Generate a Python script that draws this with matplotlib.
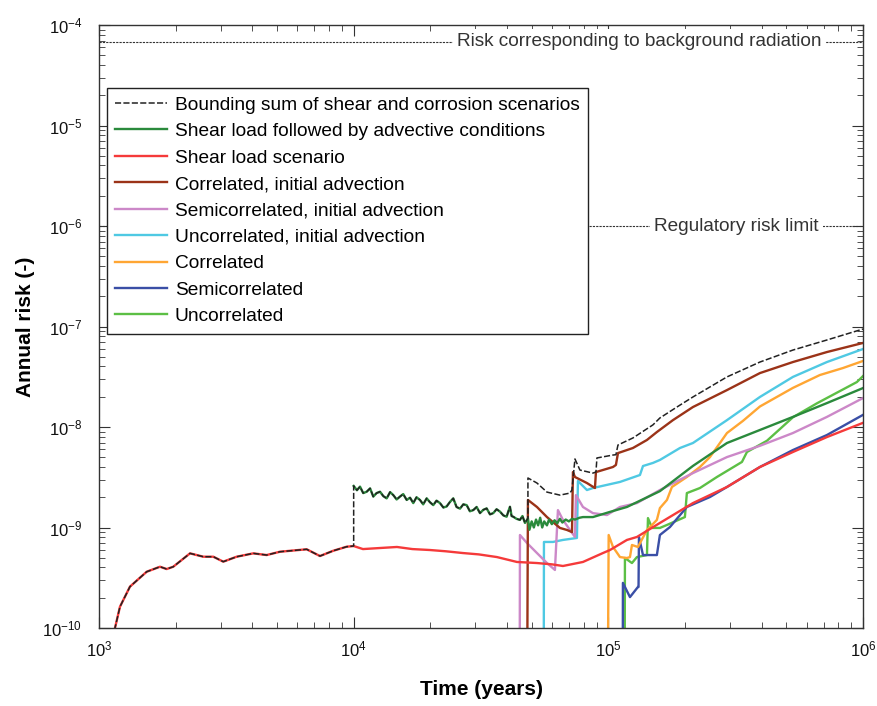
import numpy as np
import matplotlib
matplotlib.use("Agg")
import matplotlib.pyplot as plt

plt.rcParams['font.family'] = ['Liberation Sans', 'DejaVu Sans']
plt.rcParams['mathtext.fontset'] = 'custom'
plt.rcParams['mathtext.rm'] = 'Liberation Sans'

# common early part (shear load, before 10 000 years)
early_t = [1150, 1209, 1323, 1539, 1736, 1844, 1957, 2277, 2568, 2811,
           3076, 3472, 4035, 4554, 5136, 6539, 7374, 8317, 9387, 10000]
early_r = [9.5e-11, 1.63e-10, 2.58e-10, 3.63e-10, 4.07e-10, 3.86e-10, 4.07e-10, 5.53e-10, 5.12e-10, 5.12e-10,
           4.57e-10, 5.12e-10, 5.53e-10, 5.32e-10, 5.74e-10, 6.07e-10, 5.20e-10, 5.87e-10, 6.44e-10, 6.54e-10]

# noisy part shared by bounding sum and shear+advective
noisy_t = [10000, 10300, 10590, 10900, 11250, 11600, 11940, 12300,
           12690, 13080, 13480, 13900, 14310, 14750, 15200, 15650,
           16150, 16650, 17140, 17650, 18210, 18750, 19350, 19950,
           20540, 21150, 21820, 22500, 23180, 23900, 24610, 25350,
           26150, 26950, 27780, 28600, 29490, 30400, 31330, 32300,
           33280, 34300, 35330, 36400, 37530, 38700, 39870, 40500,
           41090, 41700, 42330, 43600, 44970, 46000, 47070, 48340]
noisy_r = [2.59e-9, 2.35e-9, 2.55e-9, 2.20e-9, 2.27e-9, 2.45e-9, 2.03e-9, 2.20e-9,
           2.27e-9, 2.05e-9, 1.95e-9, 2.25e-9, 2.10e-9, 1.90e-9, 2.03e-9, 2.15e-9,
           1.88e-9, 1.98e-9, 1.75e-9, 2.00e-9, 1.88e-9, 1.70e-9, 1.95e-9, 1.78e-9,
           1.67e-9, 1.85e-9, 1.75e-9, 1.58e-9, 1.62e-9, 1.80e-9, 1.95e-9, 1.60e-9,
           1.54e-9, 1.70e-9, 1.67e-9, 1.45e-9, 1.49e-9, 1.60e-9, 1.39e-9, 1.50e-9,
           1.55e-9, 1.35e-9, 1.39e-9, 1.52e-9, 1.44e-9, 1.32e-9, 1.28e-9, 1.45e-9,
           1.61e-9, 1.30e-9, 1.28e-9, 1.22e-9, 1.19e-9, 1.30e-9, 1.11e-9, 1.23e-9]

bound_tail_t = [48340, 52450, 57420, 64560, 70680, 71940, 73950, 77350, 87000, 89400, 90210, 104300,
                107100, 109100, 124900, 149700, 159400, 185900, 214900, 292300, 393800, 530700, 721600, 1000000]
bound_tail_r = [3.11e-9, 2.77e-9, 2.25e-9, 2.10e-9, 2.20e-9, 2.36e-9, 4.81e-9, 3.73e-9, 3.48e-9, 3.56e-9, 4.92e-9, 5.26e-9,
                5.30e-9, 6.62e-9, 7.78e-9, 1.05e-8, 1.23e-8, 1.58e-8, 1.99e-8, 3.15e-8, 4.43e-8, 5.83e-8, 7.34e-8, 9.44e-8]

green_tail_t = [49000, 50000, 51000, 52000, 53000, 54000, 55000, 56000,
                57400, 58500, 60000, 61500, 63000, 64500, 66000, 68000,
                70000, 72000, 74000, 77000, 79490, 87000, 101500, 118300,
                159400, 214900, 292300, 393800, 530700, 721600, 1000000]
green_tail_r = [0.95e-9, 1.15e-9, 1.00e-9, 1.20e-9, 1.05e-9, 1.25e-9, 1.00e-9, 1.15e-9,
                1.05e-9, 1.20e-9, 1.08e-9, 1.18e-9, 1.10e-9, 1.22e-9, 1.12e-9, 1.20e-9,
                1.15e-9, 1.22e-9, 1.20e-9, 1.25e-9, 1.27e-9, 1.27e-9, 1.43e-9, 1.60e-9,
                2.30e-9, 4.10e-9, 6.93e-9, 9.34e-9, 1.26e-8, 1.73e-8, 2.44e-8]

red_tail_t = [10876, 12684, 14791, 17000, 19930, 23000, 26860, 31000, 36520, 43770, 52450, 60000, 66340,
              79500, 95240, 101500, 118300, 129500, 159400, 214900, 292300, 393800, 530700, 721600, 1000000]
red_tail_r = [6.1e-10, 6.25e-10, 6.4e-10, 6.1e-10, 5.97e-10, 5.8e-10, 5.57e-10, 5.4e-10, 5.08e-10, 4.54e-10, 4.43e-10, 4.3e-10, 4.14e-10,
              4.54e-10, 5.57e-10, 5.97e-10, 7.52e-10, 8.05e-10, 1.11e-9, 1.75e-9, 2.53e-9, 4.0e-9, 5.64e-9, 7.94e-9, 1.10e-8]

brown_t = [48100, 48340, 52450, 57420, 64560, 68780, 72000, 72620, 73950, 82410, 88600, 89400, 104300,
           107100, 109100, 124900, 141800, 155100, 179300, 214900, 292300, 393800, 530700, 721600, 1000000]
brown_r = [9e-11, 1.88e-9, 1.60e-9, 1.27e-9, 9.9e-10, 9.45e-10, 9.0e-10, 3.56e-9, 3.18e-9, 2.77e-9, 2.47e-9, 3.56e-9, 4.0e-9,
           4.19e-9, 5.5e-9, 6.18e-9, 7.43e-9, 8.91e-9, 1.17e-8, 1.58e-8, 2.33e-8, 3.44e-8, 4.43e-8, 5.57e-8, 6.86e-8]

pink_t = [44900, 44970, 47900, 52450, 57420, 61700, 63400, 66340, 70680, 73950, 74620, 79490,
          87000, 98740, 111100, 129500, 159400, 214900, 292300, 393800, 530700, 721600, 1000000]
pink_r = [9e-11, 8.42e-10, 7.02e-10, 5.57e-10, 4.43e-10, 3.78e-10, 1.49e-9, 1.19e-9, 9.45e-10, 8.05e-10, 2.10e-9, 1.60e-9,
          1.39e-9, 1.33e-9, 1.60e-9, 1.75e-9, 2.36e-9, 3.48e-9, 5.02e-9, 6.5e-9, 8.71e-9, 1.26e-8, 1.94e-8]

cyan_t = [55800, 55870, 60600, 66340, 75290, 75970, 82410, 87000, 111100, 133100,
          136800, 149700, 159400, 191100, 214900, 292300, 393800, 530700, 721600, 1000000]
cyan_r = [9e-11, 7.18e-10, 7.18e-10, 7.52e-10, 7.87e-10, 2.90e-9, 2.36e-9, 2.47e-9, 2.84e-9, 3.33e-9,
          4.09e-9, 4.39e-9, 4.70e-9, 6.18e-9, 6.93e-9, 1.17e-8, 1.99e-8, 3.15e-8, 4.43e-8, 5.97e-8]

orange_t = [99800, 100300, 104300, 111100, 118300, 121600, 123800, 130700, 141800, 145700, 155100, 159400,
            169900, 177700, 203400, 228900, 250600, 274300, 292300, 337700, 393800, 530700, 677200, 834000, 1000000]
orange_r = [9e-11, 8.42e-10, 6.40e-10, 5.08e-10, 4.97e-10, 5.08e-10, 6.70e-10, 6.40e-10, 9.45e-10, 1.01e-9, 1.19e-9, 1.56e-9,
            1.88e-9, 2.53e-9, 3.18e-9, 4.0e-9, 5.02e-9, 6.93e-9, 8.71e-9, 1.15e-8, 1.6e-8, 2.45e-8, 3.29e-8, 3.86e-8, 4.54e-8]

lgreen_t = [116000, 116200, 123800, 129500, 141800, 143100, 148400, 159400, 169900, 199800,
            203400, 228900, 266900, 334700, 350200, 419700, 530700, 659200, 946000, 1000000]
lgreen_r = [9e-11, 4.97e-10, 4.43e-10, 5.08e-10, 5.32e-10, 1.24e-9, 9.9e-10, 9.9e-10, 1.06e-9, 1.27e-9,
            2.20e-9, 2.47e-9, 3.18e-9, 4.49e-9, 5.64e-9, 7.30e-9, 1.25e-8, 1.72e-8, 2.80e-8, 3.21e-8]

blue_t = [114000, 114100, 121600, 130700, 131400, 131900, 136800, 155100, 159400,
          174500, 203400, 250600, 292300, 393800, 530700, 721600, 1000000]
blue_r = [9e-11, 2.81e-10, 2.03e-10, 2.56e-10, 2.56e-10, 8.05e-10, 5.32e-10, 5.32e-10, 8.42e-10,
          1.01e-9, 1.60e-9, 2.01e-9, 2.53e-9, 4.0e-9, 5.90e-9, 8.32e-9, 1.32e-8]

background_risk = 6.8e-5
regulatory_limit = 1e-6

labels = ["Bounding sum of shear and corrosion scenarios",
          "Shear load followed by advective conditions",
          "Shear load scenario",
          "Correlated, initial advection",
          "Semicorrelated, initial advection",
          "Uncorrelated, initial advection",
          "Correlated",
          "Semicorrelated",
          "Uncorrelated"]

fig = plt.figure(figsize=(8.77, 7.06), dpi=100)
ax = fig.add_axes([99 / 877, 1 - 628 / 706, 764 / 877, 603 / 706])

lw = 1.7
h_lg, = ax.plot(lgreen_t, lgreen_r, color='#5cbf45', lw=lw)
h_bl, = ax.plot(blue_t, blue_r, color='#3a4fa6', lw=lw)
h_or, = ax.plot(orange_t, orange_r, color='#ffa633', lw=lw)
h_cy, = ax.plot(cyan_t, cyan_r, color='#4fc9e3', lw=lw)
h_pk, = ax.plot(pink_t, pink_r, color='#cc88c8', lw=lw)
h_br, = ax.plot(brown_t, brown_r, color='#9b3318', lw=lw)
h_rd, = ax.plot(early_t + red_tail_t, early_r + red_tail_r, color='#f53a3a', lw=lw)
h_gr, = ax.plot(noisy_t + green_tail_t, noisy_r + green_tail_r, color='#2a8a3c', lw=lw)
h_bd, = ax.plot(early_t + noisy_t + bound_tail_t, early_r + noisy_r + bound_tail_r,
                color='#222222', lw=1.1, ls=(0, (4, 1.5)))

# reference levels
ax.axhline(background_risk, color='#333333', lw=0.8, ls=(0, (2, 1)), zorder=1)
ax.axhline(regulatory_limit, color='#333333', lw=0.8, ls=(0, (2, 1)), zorder=1)
ax.text(6.9e5, background_risk, "Risk corresponding to background radiation", fontsize=13.7,
        ha='right', va='center', color='#333333',
        bbox=dict(facecolor='white', edgecolor='none', pad=3))
ax.text(6.7e5, regulatory_limit, "Regulatory risk limit", fontsize=13.7,
        ha='right', va='center', color='#333333',
        bbox=dict(facecolor='white', edgecolor='none', pad=3))

ax.set_xscale('log')
ax.set_yscale('log')
ax.set_xlim(1e3, 1e6)
ax.set_ylim(1e-10, 1e-4)

ax.tick_params(which='both', direction='in', top=True, right=True, colors='#333333', labelcolor='#111111')
ax.tick_params(which='major', length=8, labelsize=12)
ax.tick_params(which='minor', length=4)
ax.tick_params(axis='y', which='major', pad=12)
ax.tick_params(axis='x', which='major', pad=8)
for s in ax.spines.values():
    s.set_color('#333333')
    s.set_linewidth(1.0)

ax.set_xlabel("Time (years)", fontsize=15, fontweight='bold', labelpad=15)
ax.set_ylabel("Annual risk (-)", fontsize=15, fontweight='bold', labelpad=5)

handles = [h_bd, h_gr, h_rd, h_br, h_pk, h_cy, h_or, h_bl, h_lg]
leg = ax.legend(handles, labels, loc='upper left', bbox_to_anchor=(0.01, 0.896),
                fontsize=13.8, frameon=True, fancybox=False, framealpha=1,
                edgecolor='#222222', handlelength=2.7, handletextpad=0.4,
                labelspacing=0.47, borderpad=0.45, borderaxespad=0)
leg.get_frame().set_linewidth(1.0)
leg.set_zorder(5)

fig.savefig("out.png", dpi=100)
